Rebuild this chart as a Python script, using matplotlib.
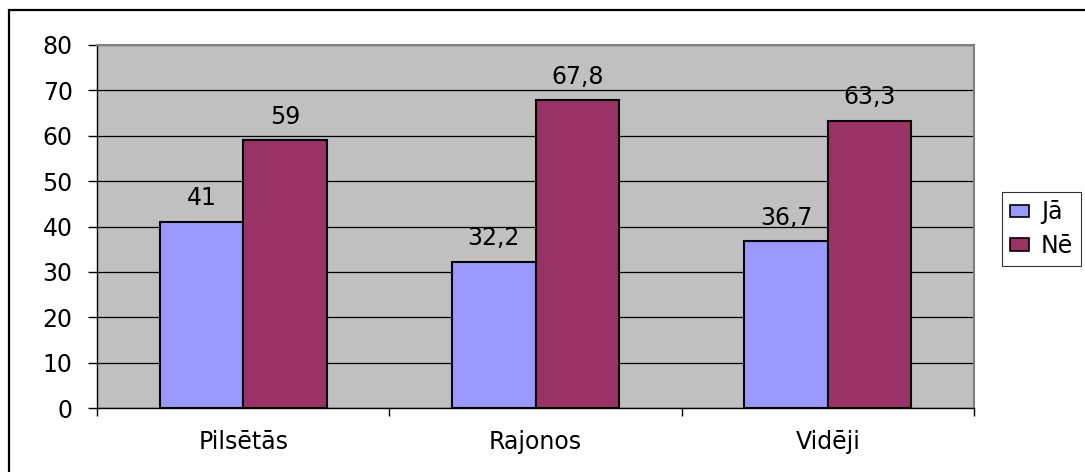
import numpy as np
import matplotlib
matplotlib.use('Agg')
import matplotlib.pyplot as plt
from matplotlib.patches import Patch, Rectangle

plt.rcParams['font.family'] = ['DejaVu Sans']

# dati
kategorijas = ['Pilsētās', 'Rajonos', 'Vidēji']
ja = [41, 32.2, 36.7]
ne = [59, 67.8, 63.3]
y_ticks = [0, 10, 20, 30, 40, 50, 60, 70, 80]

c_ja = '#9999FF'
c_ne = '#993366'
fs = 17

fig = plt.figure(figsize=(10.85, 4.72), dpi=100)
ax = fig.add_axes([97 / 1085, 64 / 472, 877 / 1085, 363 / 472])
ax.set_facecolor('#C0C0C0')

x = np.arange(len(kategorijas))
w = 1 / 3.5

b1 = ax.bar(x - w / 2, ja, w, color=c_ja, edgecolor='black', linewidth=1.5, zorder=3)
b2 = ax.bar(x + w / 2, ne, w, color=c_ne, edgecolor='black', linewidth=1.5, zorder=3)

# vērtību etiķetes ar komatu
for bars, vals in [(b1, ja), (b2, ne)]:
    for r, v in zip(bars, vals):
        txt = ('%g' % v).replace('.', ',')
        ax.annotate(txt, (r.get_x() + r.get_width() / 2, v), xytext=(0, 12),
                    textcoords='offset points', ha='center', va='baseline',
                    fontsize=fs)

ax.set_xlim(-0.5, len(kategorijas) - 0.5)
ax.set_ylim(0, 80)
ax.set_yticks(y_ticks)
ax.yaxis.grid(True, color='black', linewidth=0.9, zorder=1)
ax.set_axisbelow(True)

ax.set_xticks(x)
ax.set_xticklabels(kategorijas, fontsize=fs)
ax.tick_params(axis='x', which='major', length=0, pad=16)
ax.set_xticks(np.arange(-0.5, len(kategorijas)), minor=True)
ax.tick_params(axis='x', which='minor', length=6, width=1, color='black')
ax.tick_params(axis='y', length=6.5, width=1, pad=11, labelsize=fs)

for s in ['top', 'right']:
    ax.spines[s].set_color('#808080')
    ax.spines[s].set_linewidth(1.5)
for s in ['left', 'bottom']:
    ax.spines[s].set_color('black')
    ax.spines[s].set_linewidth(1)

# leģenda
handles = [Patch(facecolor=c_ja, edgecolor='black', linewidth=1.2),
           Patch(facecolor=c_ne, edgecolor='black', linewidth=1.2)]
leg = fig.legend(handles, ['Jā', 'Nē'], loc='upper left',
                 bbox_to_anchor=(1002 / 1085, 1 - 192 / 472), borderaxespad=0,
                 fontsize=fs, frameon=True, fancybox=False, handlelength=0.8,
                 handleheight=0.45, handletextpad=0.5, labelspacing=0.4,
                 borderpad=0.35)
leg.get_frame().set_edgecolor('black')
leg.get_frame().set_linewidth(0.8)

# ārējais rāmis
fig.patches.append(Rectangle((9 / 1085, -0.1), 1.2, 1 - 10 / 472 + 0.1,
                             transform=fig.transFigure, fill=False,
                             edgecolor='black', linewidth=1.6))

fig.savefig('out.png', dpi=100)
